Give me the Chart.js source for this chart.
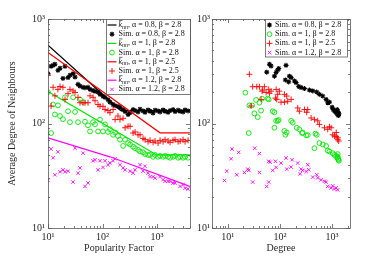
<!DOCTYPE html>
<html>
<head>
<meta charset="utf-8">
<script src="https://cdn.jsdelivr.net/npm/chart.js@4/dist/chart.umd.min.js"></script>
<style>
  html, body { margin: 0; padding: 0; background: #fff; width: 375px; height: 257px; overflow: hidden; }
  canvas { position: absolute; top: 0; }
  #left { left: 0; }
  #right { left: 195px; }
</style>
</head>
<body>
<canvas id="left" width="195" height="257" style="width:195px;height:257px"></canvas>
<canvas id="right" width="180" height="257" style="width:180px;height:257px"></canvas>
<script>
// popularity factor samples (left panel, shared by all sim series)
const popFactor = [10, 11.4, 12.4, 13.4, 15.2, 16.6, 18.8, 20.5, 23.3, 25.3, 28.8, 31.3, 35.5, 38.6, 43.9, 47.7,
  54.2, 59.0, 67.0, 72.8, 82.7, 89.9, 102, 111, 126, 137, 156, 170, 192, 209, 238, 259, 294, 320, 363, 395,
  448, 487, 553, 602, 684, 744, 845, 919, 1043, 1135, 1288, 1402, 1592, 1732, 1966, 2140, 2429, 2643, 3000, 3265, 3705];

const simBlackL = [300, 353, 360, 369, 323, 338, 270, 353, 275, 290, 300, 278, 237, 228, 222, 220, 222, 212, 207, 203,
  200, 190, 182, 178, 169, 160, 152, 148, 146, 143, 136, 130, 122, 127, 136, 133, 129, 137, 132, 128, 135, 131, 126,
  134, 132, 129, 135, 131, 128, 133, 136, 130, 134, 131, 129, 135, 132];
const simGreenL = [200, 81, 152, 122, 149, 118, 110, 178, 131, 103, 178, 129, 103, 170, 160, 104, 96, 84, 103, 98,
  84, 109, 84, 98, 83, 88, 78, 82, 76, 70, 61, 70, 65, 63, 60, 58, 56, 54, 53, 51, 50, 50, 48, 50, 48, 49, 48, 49,
  48, 47, 48, 49, 47, 48, 47, 48, 47];
const simRedL = [290, 147, 222, 184, 212, 226, 222, 170, 193, 212, 205, 198, 178, 158, 158, 158, 158, 184, 178, 165,
  152, 146, 146, 136, 133, 127, 136, 109, 118, 109, 112, 91, 94, 94, 81, 83, 78, 78, 72, 70, 67, 69, 66, 68, 65, 69,
  67, 70, 68, 66, 69, 70, 67, 68, 70, 67, 69];
const simMagL = [28.6, 57, 47, 32.3, 53.6, 34.5, 36, 34.5, 35, null, 27.5, 58, 33.5, 37.6, 52, 25, 27, null, 44, 45,
  36, 44, 38, 44, 40.3, 42, 44, 46, null, 40.3, 37.6, 36, null, 35, 33.5, 36, null, 40.3, 35, 39, 33.5, 31, 31, 30,
  null, 31, 29, 28, 28, 28, 27, 27, null, 25, 26, 24, 23.6];

// theoretical k_nn curves (left panel)
const kBlackX = [10, 215, 4000], kBlackY = [562, 133, 133];
const kGreenX = [10, 986, 4000], kGreenY = [202, 50, 50];
const kRedX = [10, 1135, 4000], kRedY = [479, 81.5, 81.5];
const kMagX = [10, 137, 4000], kMagY = [73, 48, 25];

// degree vs k_nn (right panel)
const degBlack = [55.9, 63, 67.8, 78.5, 84.6, 90.7, 94.9, 127, 131, 147, 152, 164, 190, 204, 229, 255, 295, 367, 425,
  507, 571, 661, 768, 824, 888, 1000, 1050, 1100, 1150, 1200, 1250, 1250, 1280, 1300, 1300, 1320, 1350];
const knnBlackR = [310, 369, 355, 284, 308, 326, 336, 261, 360, 250, 284, 275, 255, 246, 226, 221, 216, 209, 205,
  200, 190, 183, 170, 158, 160, 143, 136, 133, 130, 127, 124, 136, 130, 122, 127, 119, 124];
const degGreen = [21.8, 25.3, 26, 29.3, 32.4, 35, 37.6, 40.5, 43.6, 45.6, 58.3, 61, 72.8, 78.5, 84.6, 90.7, 95, 78.5,
  122, 127, 135, 164, 176, 210, 236, 266, 273, 318, 341, 458, 479, 507, 571, 661, 768, 824, 888, 1026, 1106, 1193,
  1250, 1280, 1280, 1300, 1320, 1350];
const knnGreenR = [197, 81, 149, 149, 125, 168, 115, 158, 133, 173, 173, 170, 131, 128, 106, 106, 108, 91, 85, 78,
  82, 106, 102, 91, 88, 81, 82, 77, 77.5, 58, 80, 78, 65, 63, 61, 55, 54, 52, 50, 49, 47, 48, 51, 46, 45, 44];
const degRed = [26, 28, 30.1, 36, 40.5, 43.6, 45.6, 46.8, 50.4, 54.4, 61, 63, 67.8, 82, 84.6, 86.8, 90.7, 97.7, 105,
  122, 122, 135, 141, 164, 219, 236, 295, 326, 341, 396, 458, 530, 571, 713, 824, 888, 957, 1026, 1106, 1193, 1200,
  1280, 1280, 1337];
const knnRedR = [296, 147, 225, 225, 225, 170, 204, 209, 225, 198, 212, 195, 204, 175, 212, 170, 190, 204, 160, 160,
  190, 183, 163, 170, 141, 131, 136, 128, 136, 113, 109, 106, 98, 91, 88, 93, 91, 78, 76, 75, 82, 73, 70, 68];
const degMag = [8.65, 9.58, 11.6, 12.1, 14.9, 16.2, 20.9, 24.2, 25.3, 30.1, 32.9, 40.5, 40.5, 55.9, 61, 61, 64.9,
  72.8, 82, 84.6, 105, 131, 135, 164, 171, 219, 244, 255, 273, 318, 341, 356, 425, 507, 530, 615, 713, 768, 824, 957,
  1026, 1106, 1193, 1280];
const knnMagR = [28.5, 35, 46, 57, 32.3, 53, 34, 36.6, 35.6, 27.5, 58, 51.5, 34, 25, 27.5, 43.5, 42.6, 35.6, 43.5,
  38, 41.8, 46.8, 36.6, 38.3, 45, 41.8, 33, 36.6, 35.6, 34.7, 40.3, 36.1, 30.7, 32.3, 30.2, 28.9, 28, 27.5, 25, 24.2,
  25.3, 23.6, 24.2, 23.2];

const decadeTicks = [10, 100, 1000];
const decadeLabels = ['10⁰', '10¹', '10²', '10³', '10⁴'];

const BLACK = '#000000', GREEN = '#00e600', RED = '#ff0000', MAGENTA = '#ff00ff';
const FONT = '"Liberation Serif", "DejaVu Serif", serif';
Chart.defaults.font.family = FONT;
Chart.defaults.color = '#262626';

function pts(xs, ys) {
  return xs.map((x, i) => ({ x, y: ys[i] })).filter(p => p.y != null);
}

function theory(label, xs, ys, color) {
  return { label, data: pts(xs, ys), showLine: true, borderColor: color, borderWidth: 1.2,
    pointRadius: 0, tension: 0, fill: false };
}

function sim(label, xs, ys, color, style, r) {
  return { label, data: pts(xs, ys), showLine: false, pointStyle: style, pointRadius: r,
    borderColor: color, backgroundColor: 'rgba(0,0,0,0)', borderWidth: style === 'star' ? 1.1 : 0.9 };
}

// later datasets drawn on top, like the plotting order
function stack(sets) {
  sets.forEach((d, i) => { d.order = sets.length - i; });
  return sets;
}

const tickLabel = v => decadeLabels[Math.round(Math.log10(v))];

function logAxis(min, max, extra) {
  return Object.assign({
    type: 'logarithmic', min, max,
    grid: { display: false, drawTicks: false },
    border: { display: false },
    afterBuildTicks: s => { s.ticks = decadeTicks.filter(v => v >= s.min && v <= s.max).map(v => ({ value: v })); }
  }, extra);
}

// box around the axes with inward log ticks on all four sides
const axesBox = {
  id: 'axesBox',
  afterDatasetsDraw(chart) {
    const { ctx, chartArea: a, scales } = chart;
    ctx.save();
    ctx.strokeStyle = '#5a5a5a';
    ctx.lineWidth = 0.8;
    ctx.strokeRect(a.left + 0.5, a.top + 0.5, a.right - a.left, a.bottom - a.top);
    for (const id of ['x', 'y']) {
      const s = scales[id];
      const lo = Math.floor(Math.log10(s.min)), hi = Math.ceil(Math.log10(s.max));
      for (let d = lo; d <= hi; d++) {
        for (let m = 1; m <= 9; m++) {
          const v = m * Math.pow(10, d);
          if (v < s.min || v > s.max) continue;
          const p = Math.round(s.getPixelForValue(v)) + 0.5;
          const len = m === 1 ? 4 : 2;
          ctx.beginPath();
          if (id === 'x') {
            ctx.moveTo(p, a.bottom); ctx.lineTo(p, a.bottom - len);
            ctx.moveTo(p, a.top); ctx.lineTo(p, a.top + len);
          } else {
            ctx.moveTo(a.left, p); ctx.lineTo(a.left + len, p);
            ctx.moveTo(a.right, p); ctx.lineTo(a.right - len, p);
          }
          ctx.stroke();
        }
      }
    }
    ctx.restore();
  }
};

function drawLabel(ctx, text, x, y) {
  ctx.fillStyle = '#111';
  ctx.textBaseline = 'middle';
  ctx.textAlign = 'left';
  if (text.startsWith('k_nn')) {
    ctx.font = 'italic 8px ' + FONT;
    ctx.fillText('k', x, y);
    const kw = ctx.measureText('k').width;
    ctx.strokeStyle = '#111';
    ctx.lineWidth = 0.6;
    ctx.beginPath(); ctx.moveTo(x + 0.5, y - 4.5); ctx.lineTo(x + kw + 0.5, y - 4.5); ctx.stroke();
    ctx.font = 'italic 6px ' + FONT;
    ctx.fillText('nn', x + kw, y + 2);
    x += kw + ctx.measureText('nn').width;
    text = text.slice(4);
  }
  ctx.font = '8px ' + FONT;
  ctx.fillText(text, x, y);
}

const boxLegend = {
  id: 'boxLegend',
  afterDraw(chart, args, o) {
    const ctx = chart.ctx;
    ctx.save();
    ctx.fillStyle = '#fff';
    ctx.fillRect(o.left, o.top, o.width, o.height);
    ctx.strokeStyle = '#5a5a5a';
    ctx.lineWidth = 0.8;
    ctx.strokeRect(o.left + 0.5, o.top + 0.5, o.width, o.height);
    chart.data.datasets.forEach((ds, i) => {
      const cy = o.top + o.first + i * o.row;
      const cx = o.left + o.markX;
      if (ds.showLine) {
        ctx.strokeStyle = ds.borderColor;
        ctx.lineWidth = 1.2;
        ctx.beginPath(); ctx.moveTo(o.left + 1.5, cy); ctx.lineTo(o.left + o.lineW, cy); ctx.stroke();
      } else {
        ctx.strokeStyle = ds.borderColor;
        ctx.fillStyle = ds.backgroundColor;
        ctx.lineWidth = ds.borderWidth;
        Chart.helpers.drawPoint(ctx, { pointStyle: ds.pointStyle, radius: ds.pointRadius, rotation: 0,
          borderWidth: ds.borderWidth }, cx, cy);
      }
      drawLabel(ctx, ds.label, o.left + o.textX, cy);
    });
    ctx.restore();
  }
};

new Chart(document.getElementById('left'), {
  type: 'scatter',
  data: {
    datasets: stack([
      theory('k_nn, α = 0.8, β = 2.8', kBlackX, kBlackY, BLACK),
      sim('Sim. α = 0.8, β = 2.8', popFactor, simBlackL, BLACK, 'star', 2.5),
      theory('k_nn, α = 1, β = 2.8', kGreenX, kGreenY, GREEN),
      sim('Sim. α = 1, β = 2.8', popFactor, simGreenL, GREEN, 'circle', 2.4),
      theory('k_nn, α = 1, β = 2.5', kRedX, kRedY, RED),
      sim('Sim. α = 1, β = 2.5', popFactor, simRedL, RED, 'cross', 3),
      theory('k_nn, α = 1.2, β = 2.8', kMagX, kMagY, MAGENTA),
      sim('Sim. α = 1.2, β = 2.8', popFactor, simMagL, MAGENTA, 'crossRot', 2.4)
    ])
  },
  options: {
    responsive: false, animation: false, devicePixelRatio: 1,
    layout: { padding: { top: 19, right: 5, left: 0, bottom: 0 } },
    scales: {
      x: logAxis(10, 4000, {
        afterFit: s => { s.height = 29; },
        title: { display: true, text: 'Popularity Factor', font: { size: 10 }, padding: { top: 0, bottom: 3 } },
        ticks: { callback: tickLabel, autoSkip: false, maxRotation: 0, padding: 3, font: { size: 10 }, color: '#262626' }
      }),
      y: logAxis(10, 1000, {
        afterFit: s => { s.width = 48; },
        title: { display: true, text: 'Average Degree of Neighbours', font: { size: 10 }, padding: { top: 6, bottom: 0 } },
        ticks: { callback: tickLabel, autoSkip: false, padding: 3, font: { size: 10 }, color: '#262626' }
      })
    },
    plugins: {
      legend: { display: false },
      tooltip: { enabled: false },
      boxLegend: { left: 106, top: 19, width: 84, height: 75, first: 6, row: 9.2, lineW: 10.5, markX: 6, textX: 12.5 }
    }
  },
  plugins: [axesBox, boxLegend]
});

new Chart(document.getElementById('right'), {
  type: 'scatter',
  data: {
    datasets: stack([
      sim('Sim. α = 0.8, β = 2.8', degBlack, knnBlackR, BLACK, 'star', 2.5),
      sim('Sim. α = 1, β = 2.8', degGreen, knnGreenR, GREEN, 'circle', 2.4),
      sim('Sim. α = 1, β = 2.5', degRed, knnRedR, RED, 'cross', 3),
      sim('Sim. α = 1.2, β = 2.8', degMag, knnMagR, MAGENTA, 'crossRot', 2.4)
    ])
  },
  options: {
    responsive: false, animation: false, devicePixelRatio: 1,
    layout: { padding: { top: 19, right: 25, left: 0, bottom: 0 } },
    scales: {
      x: logAxis(5, 2200, {
        afterFit: s => { s.height = 29; },
        title: { display: true, text: 'Degree', font: { size: 10 }, padding: { top: 0, bottom: 3 } },
        ticks: { callback: tickLabel, autoSkip: false, maxRotation: 0, padding: 3, font: { size: 10 }, color: '#262626' }
      }),
      y: logAxis(10, 1000, {
        afterFit: s => { s.width = 17; },
        ticks: { callback: tickLabel, autoSkip: false, padding: 2, font: { size: 10 }, color: '#262626' }
      })
    },
    plugins: {
      legend: { display: false },
      tooltip: { enabled: false },
      boxLegend: { left: 70, top: 19, width: 82, height: 37.5, first: 6, row: 9.2, lineW: 0, markX: 4.5, textX: 10 }
    }
  },
  plugins: [axesBox, boxLegend]
});
</script>
</body>
</html>
